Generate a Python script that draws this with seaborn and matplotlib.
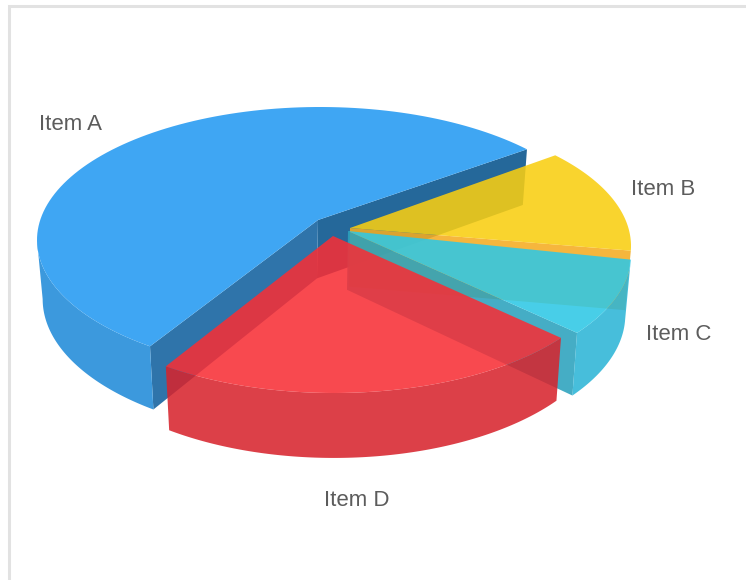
import numpy as np
import matplotlib
matplotlib.use("Agg")
import matplotlib.pyplot as plt
import seaborn as sns

sns.set_theme(style="white")
plt.rcParams['font.family'] = ['Liberation Sans', 'DejaVu Sans']

# ---- data (percent shares) ----
items = ["Item A", "Item D", "Item C", "Item B"]
shares = [52.8, 25.3, 9.4, 12.5]

# ---- styles ----
top_colors = sns.color_palette(["#3fa6f3", "#f72e35", "#2fc8e5", "#f9ce11"])
side_colors = sns.color_palette(["#3c99dd", "#d7242d", "#2db5d7", "#f5ac22"])
wall_colors = sns.color_palette(["#2f74aa", "#d7242d", "#2ba2bd", "#f5ac22"])
far_wall_color = "#25689a"
alphas = [1.0, 0.87, 0.88, 0.88]

START = 43.0
RX, RY = 283.0, 133.0
layout = {
    "Item A": dict(centre=(320, 240), apex=(318, 220), rx=RX),
    "Item D": dict(centre=(334, 260), apex=(333, 236), rx=280),
    "Item C": dict(centre=(346, 255), apex=(348, 231), rx=285),
    "Item B": dict(centre=(349, 246), apex=(350, 228), rx=282),
}
labels_at = {"Item A": (70.5, 124), "Item B": (663, 189.5), "Item C": (678.5, 334), "Item D": (356.5, 500)}

fig = plt.figure(figsize=(7.46, 5.80), dpi=100, facecolor="white")
ax = fig.add_axes([0, 0, 1, 1])
ax.set_xlim(0, 746)
ax.set_ylim(580, 0)
ax.axis("off")


def rim(lay, a0, a1, n=120):
    t = np.radians(np.linspace(a0, a1, n))
    cx, cy = lay["centre"]
    return cx + lay["rx"] * np.cos(t), cy - RY * np.sin(t)


def drop(lay, x, y):
    """Lower edge of a top-surface point: slight perspective narrowing and depth growth."""
    x = np.asarray(x, float)
    y = np.asarray(y, float)
    cx = lay["centre"][0]
    return cx + (x - cx) * 0.98, y + 50 + 0.038 * y


def wall(lay, angle, color, alpha, z):
    ex, ey = rim(lay, angle, angle, 1)
    ax_, ay_ = lay["apex"]
    xs = np.array([ax_, ex[0]])
    ys = np.array([ay_, ey[0]])
    bx, by = drop(lay, xs, ys)
    bx[0] = ax_ - 1
    ax.fill(np.r_[xs, bx[::-1]], np.r_[ys, by[::-1]], color=color, alpha=alpha, lw=0, zorder=z)


def side(lay, a0, a1, color, alpha, z):
    x, y = rim(lay, a0, a1)
    bx, by = drop(lay, x, y)
    ax.fill(np.r_[x, bx[::-1]], np.r_[y, by[::-1]], color=color, alpha=alpha, lw=0, zorder=z)


def top(lay, a0, a1, color, alpha, z):
    x, y = rim(lay, a0, a1)
    ax.fill(np.r_[lay["apex"][0], x], np.r_[lay["apex"][1], y], color=color, alpha=alpha, lw=0, zorder=z)


edges = START + np.r_[0, np.cumsum(shares)] * 3.6
bounds = dict(zip(items, zip(edges[:-1], edges[1:])))

# Item A: opaque, inner walls, outer side, top
a0, a1 = bounds["Item A"]
lay = layout["Item A"]
wall(lay, a0, far_wall_color, 1, 1)
wall(lay, a1, wall_colors[0], 1, 1)
side(lay, 180, a1, side_colors[0], 1, 2)
top(lay, a0, a1, top_colors[0], 1, 3)

# Item B: wall facing Item C, then top
a0, a1 = bounds["Item B"]
lay = layout["Item B"]
wall(lay, a0, wall_colors[3], alphas[3], 4)
top(lay, a0, a1, top_colors[3], alphas[3], 5)

# Item C: wall facing Item D, outer side, top
a0, a1 = bounds["Item C"]
lay = layout["Item C"]
wall(lay, a0, wall_colors[2], alphas[2], 6)
side(lay, a0, a1, side_colors[2], alphas[2], 7)
top(lay, a0, a1, top_colors[2], alphas[2], 8)

# Item D: outer side and top
a0, a1 = bounds["Item D"]
lay = layout["Item D"]
side(lay, a0, a1, side_colors[1], alphas[1], 9)
top(lay, a0, a1, top_colors[1], alphas[1], 10)

# Labels
for name in items:
    x, y = labels_at[name]
    ax.text(x, y, name, fontsize=16, color="#5c5c5c", ha="center", va="center", zorder=12)

# Card border (left and top only are in frame)
ax.plot([8.5, 8.5, 746], [580, 6, 6], color="#e2e2e2", lw=2.2, solid_joinstyle="miter", zorder=0)

fig.savefig("out.png", dpi=100)
